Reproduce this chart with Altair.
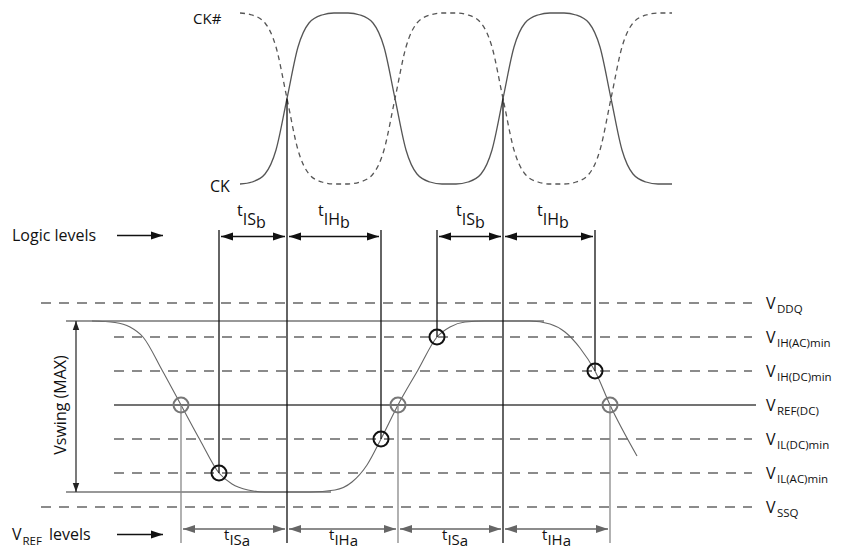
import altair as alt
import pandas as pd

# ---------------- data (diagram units = page pixels) ----------------
# Clock waveforms (CK solid, CK# dashed)
clk_x = [240, 252, 265, 276, 287, 298, 309, 322, 334,
         348, 360, 373, 384, 395, 406, 417, 430, 442,
         456, 468, 481, 492, 503, 514, 525, 538, 550,
         564, 576, 589, 600, 611, 622, 633, 646, 658, 672]
ck_y = [184, 182, 174, 150, 98.5, 47, 23, 15, 13,
        13, 15, 23, 47, 98.5, 150, 174, 182, 184,
        184, 182, 174, 150, 98.5, 47, 23, 15, 13,
        13, 15, 23, 47, 98.5, 150, 174, 182, 184, 184]
ckn_y = [13, 15, 23, 47, 98.5, 150, 174, 182, 184,
         184, 182, 174, 150, 98.5, 47, 23, 15, 13,
         13, 15, 23, 47, 98.5, 150, 174, 182, 184,
         184, 182, 174, 150, 98.5, 47, 23, 15, 13, 13]

# Input signal
sig_x = [92, 115, 130, 143, 162, 181, 200, 219, 232, 248, 265, 310, 335, 352,
         367, 381, 398, 418, 437, 450, 465, 485, 530, 550, 565, 580, 595, 610, 637]
sig_y = [321, 322.5, 327, 337, 370, 405, 440, 473, 484, 490, 492, 492, 490, 482,
         465, 439, 405, 370, 337, 327, 322, 321, 321, 324, 332, 348, 371, 405, 456]

# Voltage levels
lvl_names = ["DDQ", "IH(AC)min", "IH(DC)min", "REF(DC)", "IL(DC)min", "IL(AC)min", "SSQ"]
lvl_y = [303, 337, 371, 405, 439, 473, 507]
lvl_x0 = [41, 114, 114, 114, 114, 114, 41]
lvl_x1 = [752, 752, 752, 756, 752, 752, 752]
lvl_dashed = [True, True, True, False, True, True, True]

# Vswing bounds
swing_y = [321, 492]
swing_x0 = [66, 66]
swing_x1 = [544, 331]

# Timing points
clk_edges = [287, 503]
logic_pts_x = [219, 381, 437, 595]
logic_pts_y = [473, 439, 337, 371]
vref_pts_x = [181, 398, 610]

# Arrow spans
logic_spans = [(219, 287), (287, 381), (437, 503), (503, 595)]
vref_spans = [(181, 287), (287, 398), (398, 503), (503, 610)]

# ---------------- scales ----------------
XS = alt.Scale(domain=[8, 840], nice=False, zero=False)
YS = alt.Scale(domain=[8, 550], nice=False, zero=False, reverse=True)


def X(f="x"):
    return alt.X(f"{f}:Q", scale=XS, axis=None)


def Y(f="y"):
    return alt.Y(f"{f}:Q", scale=YS, axis=None)


layers = []

# clock
ck_df = pd.DataFrame({"x": clk_x, "y": ck_y})
ckn_df = pd.DataFrame({"x": clk_x, "y": ckn_y})
layers.append(alt.Chart(ck_df).mark_line(interpolate="monotone", color="#555", strokeWidth=1.3)
              .encode(x=X(), y=Y()))
layers.append(alt.Chart(ckn_df).mark_line(interpolate="monotone", color="#555", strokeWidth=1.3,
                                           strokeDash=[5, 4]).encode(x=X(), y=Y()))

# level lines
lv = pd.DataFrame({"y": lvl_y, "x": lvl_x0, "x2": lvl_x1, "d": lvl_dashed})
layers.append(alt.Chart(lv[lv.d]).mark_rule(color="#666", strokeWidth=1.4, strokeDash=[10, 8])
              .encode(x=X(), x2="x2:Q", y=Y()))
layers.append(alt.Chart(lv[~lv.d]).mark_rule(color="#444", strokeWidth=1.3)
              .encode(x=X(), x2="x2:Q", y=Y()))
sw = pd.DataFrame({"y": swing_y, "x": swing_x0, "x2": swing_x1})
layers.append(alt.Chart(sw).mark_rule(color="#333", strokeWidth=1.2)
              .encode(x=X(), x2="x2:Q", y=Y()))

# signal
sig = pd.DataFrame({"x": sig_x, "y": sig_y})
layers.append(alt.Chart(sig).mark_line(interpolate="monotone", color="#666", strokeWidth=1.1)
              .encode(x=X(), y=Y()))

# vertical lines
vb_rows = [{"x": e, "y": 98.5, "y2": 543} for e in clk_edges]
vb_rows += [{"x": px, "y": 230, "y2": py} for px, py in zip(logic_pts_x, logic_pts_y)]
layers.append(alt.Chart(pd.DataFrame(vb_rows)).mark_rule(color="#111", strokeWidth=1.3)
              .encode(x=X(), y=Y(), y2="y2:Q"))
vg_rows = [{"x": px, "y": 405, "y2": 543} for px in vref_pts_x]
layers.append(alt.Chart(pd.DataFrame(vg_rows)).mark_rule(color="#888", strokeWidth=1.3)
              .encode(x=X(), y=Y(), y2="y2:Q"))

# circles
layers.append(alt.Chart(pd.DataFrame({"x": logic_pts_x, "y": logic_pts_y}))
              .mark_point(shape="circle", size=225, filled=False, color="#111", strokeWidth=2, opacity=1)
              .encode(x=X(), y=Y()))
layers.append(alt.Chart(pd.DataFrame({"x": vref_pts_x, "y": [405] * 3}))
              .mark_point(shape="circle", size=225, filled=False, color="#777", strokeWidth=2, opacity=1)
              .encode(x=X(), y=Y()))

# arrows
RIGHT = "M0,0L-1,-0.33L-1,0.33Z"
LEFT = "M0,0L1,-0.33L1,0.33Z"
UP = "M0,0L-0.36,1L0.36,1Z"
DOWN = "M0,0L-0.36,-1L0.36,-1Z"


def arrow_layers(spans, y, color, both=True):
    shafts = pd.DataFrame([{"x": a + 2, "x2": b - 2, "y": y} for a, b in spans])
    rh = pd.DataFrame([{"x": b - 2, "y": y} for a, b in spans])
    out = [alt.Chart(shafts).mark_rule(color=color, strokeWidth=1.3).encode(x=X(), x2="x2:Q", y=Y()),
           alt.Chart(rh).mark_point(shape=RIGHT, size=576, filled=True, color=color, opacity=1,
                                    strokeWidth=0).encode(x=X(), y=Y())]
    if both:
        lh = pd.DataFrame([{"x": a + 2, "y": y} for a, b in spans])
        out.append(alt.Chart(lh).mark_point(shape=LEFT, size=576, filled=True, color=color, opacity=1,
                                            strokeWidth=0).encode(x=X(), y=Y()))
    return out


layers += arrow_layers(logic_spans, 236.5, "#111")
layers += arrow_layers(vref_spans, 529, "#666")
layers += arrow_layers([(115, 165), ], 235.5, "#111", both=False)
layers += arrow_layers([(115, 165), ], 534.5, "#111", both=False)

# Vswing arrow
layers.append(alt.Chart(pd.DataFrame([{"x": 76, "y": 321, "y2": 492}])).mark_rule(color="#222", strokeWidth=1.2)
              .encode(x=X(), y=Y(), y2="y2:Q"))
layers.append(alt.Chart(pd.DataFrame([{"x": 76, "y": 321}])).mark_point(
    shape=UP, size=324, filled=True, color="#222", opacity=1, strokeWidth=0).encode(x=X(), y=Y()))
layers.append(alt.Chart(pd.DataFrame([{"x": 76, "y": 492}])).mark_point(
    shape=DOWN, size=324, filled=True, color="#222", opacity=1, strokeWidth=0).encode(x=X(), y=Y()))

# ---------------- texts ----------------
txt = []
txt += [{"x": 193, "y": 24, "t": "CK#", "s": 15},
        {"x": 210, "y": 192, "t": "CK", "s": 16},
        {"x": 12, "y": 241, "t": "Logic levels", "s": 16},
        {"x": 12, "y": 540, "t": "V", "s": 16},
        {"x": 22.5, "y": 545, "t": "REF", "s": 11.5},
        {"x": 49, "y": 540, "t": "levels", "s": 16}]
for name, ly in zip(lvl_names, lvl_y):
    txt.append({"x": 766, "y": ly + 6, "t": "V", "s": 16})
    txt.append({"x": 777, "y": ly + 10, "t": name, "s": 11.5})

# timing labels: (t x, sub x, subsub x, sub text, subsub text)
logic_lbl = [(237, 242.8, 256, "IS", "b"), (318, 323.8, 340.1, "IH", "b"),
             (456, 461.8, 475, "IS", "b"), (537, 542.8, 559.1, "IH", "b")]
for tx, sx, bx, st, bt in logic_lbl:
    txt += [{"x": tx, "y": 216, "t": "t", "s": 16},
            {"x": sx, "y": 225, "t": st, "s": 16},
            {"x": bx, "y": 228, "t": bt, "s": 16}]
vref_lbl = [(224, 229.4, 241.8, "IS", "a"), (329, 334.4, 349.7, "IH", "a"),
            (442, 447.4, 459.8, "IS", "a"), (542, 547.4, 562.7, "IH", "a")]
for tx, sx, bx, st, bt in vref_lbl:
    txt += [{"x": tx, "y": 540, "t": "t", "s": 15},
            {"x": sx, "y": 545, "t": st, "s": 15},
            {"x": bx, "y": 545.5, "t": bt, "s": 15}]

tdf = pd.DataFrame(txt)
layers.append(alt.Chart(tdf).mark_text(align="left", baseline="alphabetic", font="Open Sans", color="#111")
              .encode(x=X(), y=Y(), text="t:N", size=alt.Size("s:Q", scale=None)))

layers.append(alt.Chart(pd.DataFrame([{"x": 61, "y": 405, "t": "Vswing (MAX)"}]))
              .mark_text(align="center", baseline="middle", angle=270, font="Open Sans", fontSize=16,
                         color="#111")
              .encode(x=X(), y=Y(), text="t:N"))

chart = alt.layer(*layers).properties(
    width=832, height=542, padding=0,
    autosize=alt.AutoSizeParams(type="none"),
    background="white",
).configure_view(strokeWidth=0)

chart.save("out.html", embed_options={"renderer": "svg", "actions": False})
